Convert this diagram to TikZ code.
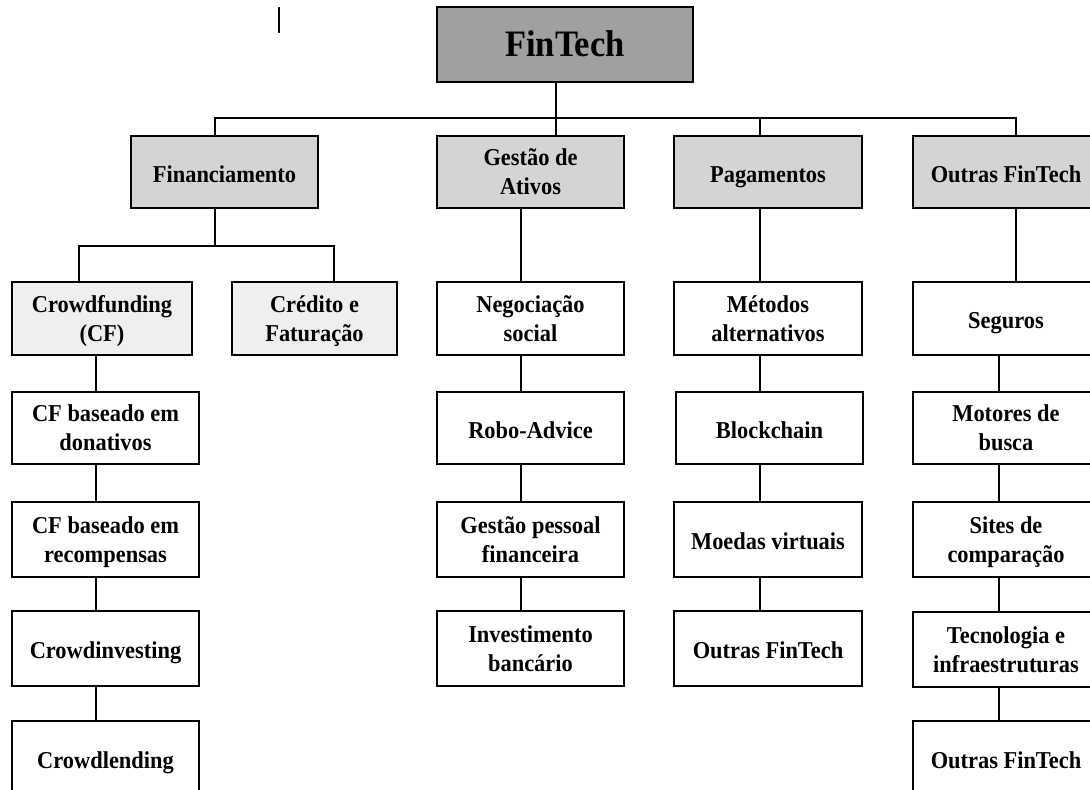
\documentclass[tikz,border=0pt]{standalone}
\usepackage{fontspec}
\setmainfont{Liberation Serif}[FakeStretch=0.926]
\definecolor{topgray}{HTML}{A0A0A0}
\definecolor{midgray}{HTML}{D4D4D4}
\definecolor{lightgray}{HTML}{EFEFEF}
\newcommand{\twol}[2]{\rule{0pt}{0.95em}#1\\#2\rule[-0.28em]{0pt}{0.28em}}
\tikzset{
  framed/.style={draw=black, line width=1.8pt, inner sep=0pt, align=center, text=black},
  box/.style={framed,
    font=\fontsize{24.2}{29}\selectfont\bfseries,
    execute at begin node={\rule{0pt}{1.1em}},
    execute at end node={\rule[-0.26em]{0pt}{0.26em}}},
  topbox/.style={framed, fill=topgray,
    font=\fontsize{37.3}{42}\selectfont\bfseries,
    execute at begin node={\rule{0pt}{0.95em}},
    execute at end node={\rule[-0.288em]{0pt}{0.288em}}},
  bx/.style 2 args={box, minimum width=#1, minimum height=#2},
  conn/.style={draw=black, line width=1.8pt}
}
\begin{document}
\begin{tikzpicture}[x=1pt,y=-1pt]
\clip (0,0) rectangle (1090,790);
\fill[white] (0,0) rectangle (1090,790);
% top
\node[topbox, minimum width=256pt, minimum height=75pt] (fintech) at (565,44.5) {FinTech};
% level 1
\node[bx={187pt}{72pt}, fill=midgray] (fin) at (224.5,172) {Financiamento};
\node[bx={187pt}{72pt}, fill=midgray] (ges) at (530.5,172) {\twol{Gestão de}{Ativos}};
\node[bx={188pt}{72pt}, fill=midgray] (pag) at (768,172) {Pagamentos};
\node[bx={186pt}{72pt}, fill=midgray] (out) at (1006,172) {Outras FinTech};
% level 2
\node[bx={180pt}{73pt}, fill=lightgray] (cf) at (102,318.5) {\twol{Crowdfunding}{(CF)}};
\node[bx={165pt}{73pt}, fill=lightgray] (cred) at (314.5,318.5) {\twol{Crédito e}{Faturação}};
\node[bx={187pt}{73pt}] (neg) at (530.5,318.5) {\twol{Negociação}{social}};
\node[bx={188pt}{73pt}] (met) at (768,318.5) {\twol{Métodos}{alternativos}};
\node[bx={186pt}{73pt}] (seg) at (1006,318.5) {Seguros};
% level 3
\node[bx={187pt}{72pt}] (cfd) at (105.5,428) {\twol{CF baseado em}{donativos}};
\node[bx={187pt}{72pt}] (robo) at (530.5,428) {Robo-Advice};
\node[bx={187pt}{72pt}] (blk) at (769.5,428) {Blockchain};
\node[bx={186pt}{72pt}] (mot) at (1006,428) {\twol{Motores de}{busca}};
% level 4
\node[bx={187pt}{75pt}] (cfr) at (105.5,539.5) {\twol{CF baseado em}{recompensas}};
\node[bx={187pt}{75pt}] (gpf) at (530.5,539.5) {\twol{Gestão pessoal}{financeira}};
\node[bx={188pt}{75pt}] (moe) at (768,539.5) {Moedas virtuais};
\node[bx={186pt}{75pt}] (sit) at (1006,539.5) {\twol{Sites de}{comparação}};
% level 5
\node[bx={187pt}{75pt}] (cfi) at (105.5,648.5) {Crowdinvesting};
\node[bx={187pt}{75pt}] (inv) at (530.5,648.5) {\twol{Investimento}{bancário}};
\node[bx={188pt}{75pt}] (outp) at (768,648.5) {Outras FinTech};
\node[bx={186pt}{75pt}] (tec) at (1006,649.5) {\twol{Tecnologia e}{infraestruturas}};
% level 6
\node[bx={187pt}{75pt}] (cfl) at (105.5,758.5) {Crowdlending};
\node[bx={186pt}{75pt}] (outo) at (1006,758.5) {Outras FinTech};
% helper coordinates
\coordinate (busA) at (0,118);
\coordinate (busB) at (0,246);
\coordinate (xa) at (215,0);
\coordinate (xb) at (556,0);
\coordinate (xc) at (760,0);
\coordinate (xd) at (1016,0);
\coordinate (xe) at (79,0);
\coordinate (xf) at (334,0);
\coordinate (xg) at (96,0);
\coordinate (xh) at (521,0);
\coordinate (xi) at (999,0);
% top bus
\draw[conn] (fintech.south -| xb) -- (busA -| xb);
\draw[conn] (fin.north -| xa) -- (busA -| xa) -- (busA -| xd) -- (out.north -| xd);
\draw[conn] (ges.north -| xb) -- (busA -| xb);
\draw[conn] (pag.north -| xc) -- (busA -| xc);
% financiamento bus
\draw[conn] (fin.south -| xa) -- (busB -| xa);
\draw[conn] (cf.north -| xe) -- (busB -| xe) -- (busB -| xf) -- (cred.north -| xf);
% left chain
\draw[conn] (cf.south -| xg) -- (cfd.north -| xg);
\draw[conn] (cfd.south -| xg) -- (cfr.north -| xg);
\draw[conn] (cfr.south -| xg) -- (cfi.north -| xg);
\draw[conn] (cfi.south -| xg) -- (cfl.north -| xg);
% gestao chain
\draw[conn] (ges.south -| xh) -- (neg.north -| xh);
\draw[conn] (neg.south -| xh) -- (robo.north -| xh);
\draw[conn] (robo.south -| xh) -- (gpf.north -| xh);
\draw[conn] (gpf.south -| xh) -- (inv.north -| xh);
% pagamentos chain
\draw[conn] (pag.south -| xc) -- (met.north -| xc);
\draw[conn] (met.south -| xc) -- (blk.north -| xc);
\draw[conn] (blk.south -| xc) -- (moe.north -| xc);
\draw[conn] (moe.south -| xc) -- (outp.north -| xc);
% outras chain
\draw[conn] (out.south -| xd) -- (seg.north -| xd);
\draw[conn] (seg.south -| xi) -- (mot.north -| xi);
\draw[conn] (mot.south -| xi) -- (sit.north -| xi);
\draw[conn] (sit.south -| xi) -- (tec.north -| xi);
\draw[conn] (tec.south -| xi) -- (outo.north -| xi);
% stray mark
\coordinate (m1) at (279,7);
\coordinate (m2) at (279,33);
\draw[conn] (m1) -- (m2);
\end{tikzpicture}
\end{document}
